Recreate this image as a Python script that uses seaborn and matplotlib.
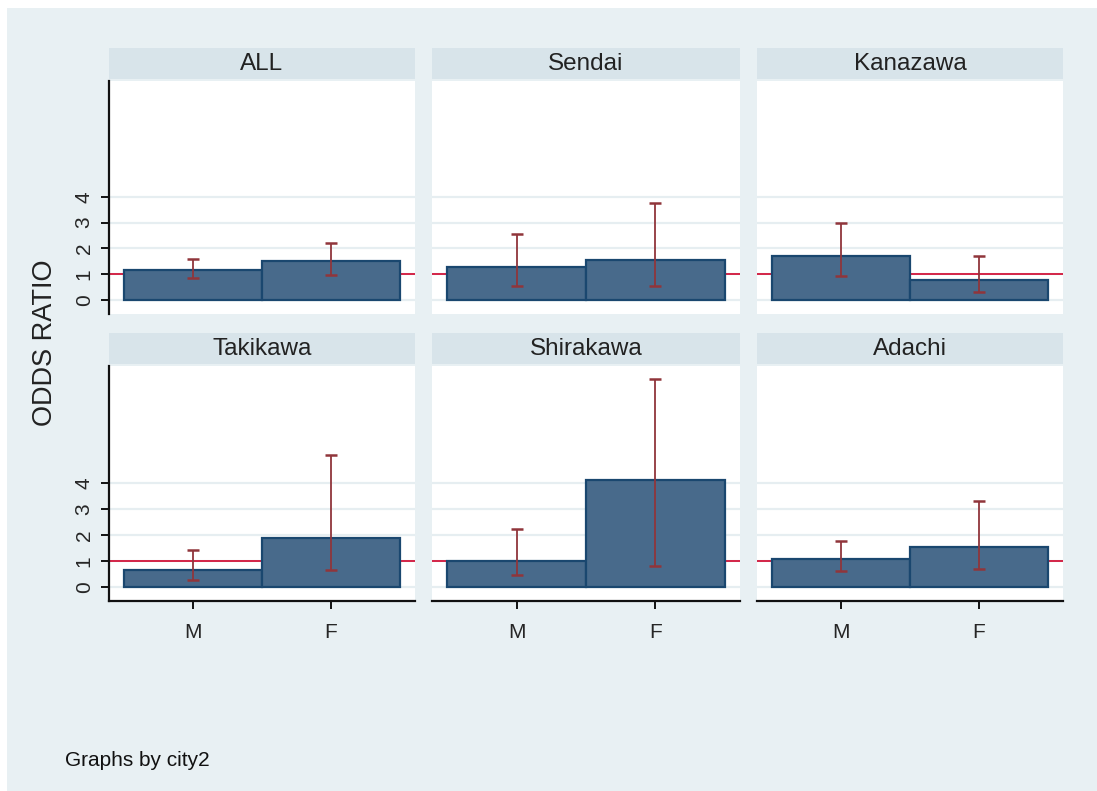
import numpy as np
import pandas as pd
import matplotlib.pyplot as plt
import seaborn as sns
from matplotlib.patches import Rectangle

# values
cities = ["ALL", "Sendai", "Kanazawa", "Takikawa", "Shirakawa", "Adachi"]
sexes = ["M", "F"]
odds_m = [1.14, 1.27, 1.70, 0.63, 0.98, 1.07]
odds_f = [1.50, 1.53, 0.76, 1.88, 4.10, 1.52]
lo_m = [0.86, 0.55, 0.91, 0.26, 0.45, 0.62]
hi_m = [1.59, 2.56, 2.98, 1.42, 2.23, 1.77]
lo_f = [0.95, 0.55, 0.31, 0.63, 0.80, 0.70]
hi_f = [2.19, 3.76, 1.69, 5.08, 8.00, 3.29]
yticks = [0, 1, 2, 3, 4]

df = pd.DataFrame({
    "city": cities * 2,
    "sex": ["M"] * 6 + ["F"] * 6,
    "odds": odds_m + odds_f,
    "lo": lo_m + lo_f,
    "hi": hi_m + hi_f,
})

sns.set_style("white")
plt.rcParams["font.family"] = ["Liberation Sans", "DejaVu Sans"]

W, H = 1097, 791
fig = plt.figure(figsize=(W / 100, H / 100), dpi=100, facecolor="white")

def rect(x0, y0, x1, y1):
    return [x0 / W, 1 - y1 / H, (x1 - x0) / W, (y1 - y0) / H]

# graph region
fig.patches.append(Rectangle((7 / W, 0), 1, 1 - 8 / H, transform=fig.transFigure,
                             facecolor="#e8f0f3", edgecolor="none", zorder=-10))

cols = [(109, 415), (432, 740), (757, 1063)]
rows = [(81, 314), (366, 601)]
strips = [(48, 79), (333, 364)]

bar_fill = "#486a8b"
bar_edge = "#1a476f"
ci_col = "#90353b"
ref_col = "#d2143a"

for i, city in enumerate(cities):
    r, c = divmod(i, 3)
    x0, x1 = cols[c]
    y0, y1 = rows[r]

    sax = fig.add_axes(rect(x0, strips[r][0], x1, strips[r][1]))
    sax.set_facecolor("#d8e4ea")
    sax.set_xticks([])
    sax.set_yticks([])
    for s in sax.spines.values():
        s.set_visible(False)
    sax.text(0.5, 0.5, city, ha="center", va="center", fontsize=17.5,
             color="#222222", transform=sax.transAxes)

    ax = fig.add_axes(rect(x0, y0, x1, y1))
    ax.set_facecolor("white")
    sub = df[df["city"] == city]

    ax.set_yticks(yticks)
    ax.yaxis.grid(True, color="#e6eef1", linewidth=1.6, zorder=0)
    ax.set_axisbelow(True)
    ax.axhline(1, color=ref_col, linewidth=1.3, zorder=1)

    sns.barplot(data=sub, x="sex", y="odds", order=sexes, width=1.0,
                color=bar_fill, saturation=1, edgecolor=bar_edge,
                linewidth=1.6, errorbar=None, ax=ax, zorder=2)

    sub = sub.set_index("sex").loc[sexes]
    xs = np.arange(len(sexes))
    ax.errorbar(xs, sub["odds"], yerr=[sub["odds"] - sub["lo"], sub["hi"] - sub["odds"]],
                fmt="none", ecolor=ci_col, elinewidth=1.3, capsize=4, capthick=1.8,
                zorder=3)

    ax.set_xlim(-0.61, 1.61)
    ax.set_ylim(-0.55, 8.5)
    ax.set_xlabel("")
    ax.set_ylabel("")

    for s in ax.spines.values():
        s.set_visible(False)
    ax.spines["left"].set_color("#111111")
    ax.spines["bottom"].set_color("#111111")
    ax.spines["left"].set_linewidth(1.6)
    ax.spines["bottom"].set_linewidth(1.6)

    if c == 0:
        ax.spines["left"].set_visible(True)
        ax.tick_params(axis="y", left=True, length=6, width=1.4, color="#111111",
                       labelsize=15, pad=5)
        for t in ax.get_yticklabels():
            t.set_rotation(90)
            t.set_va("center")
    else:
        ax.tick_params(axis="y", left=False, labelleft=False)

    if r == 1:
        ax.spines["bottom"].set_visible(True)
        ax.tick_params(axis="x", bottom=True, length=6, width=1.4, color="#111111",
                       labelsize=15, pad=10)
    else:
        ax.tick_params(axis="x", bottom=False, labelbottom=False)

fig.text(45 / W, 1 - 343 / H, "ODDS RATIO", rotation=90, ha="center", va="center",
         fontsize=19.5, color="#222222")
fig.text(65 / W, 1 - 760 / H, "Graphs by city2", ha="left", va="center",
         fontsize=15, color="#111111")

fig.savefig("out.png", dpi=100, facecolor=fig.get_facecolor())
